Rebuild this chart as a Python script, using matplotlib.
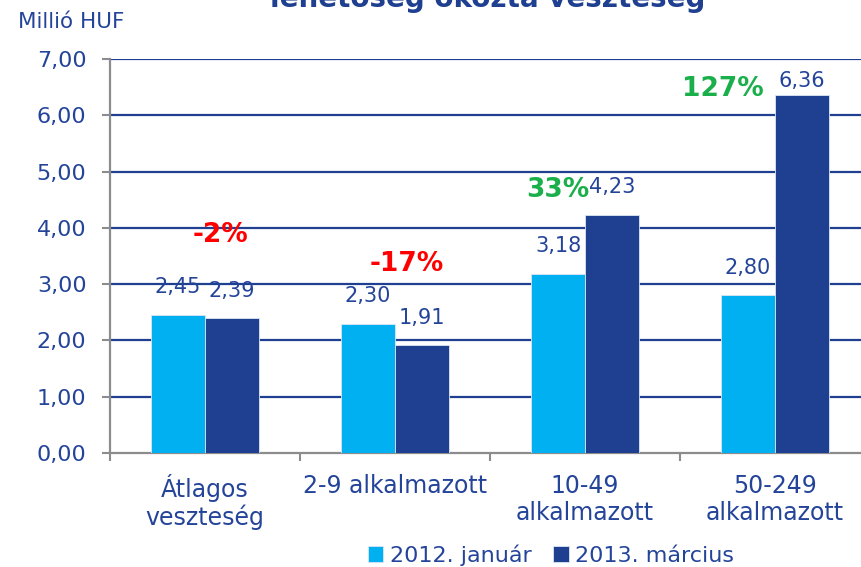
import matplotlib.pyplot as plt
import numpy as np

plt.rcParams['font.family'] = ['DejaVu Sans']

categories = ['Átlagos\nveszteség', '2-9 alkalmazott', '10-49\nalkalmazott', '50-249\nalkalmazott']
series_names = ['2012. január', '2013. március']
values_2012 = [2.45, 2.30, 3.18, 2.80]
values_2013 = [2.39, 1.91, 4.23, 6.36]
changes = ['-2%', '-17%', '33%', '127%']
y_ticks = [0, 1, 2, 3, 4, 5, 6, 7]

light = '#00b0f0'
dark = '#1f4090'
txt = '#24449a'
grey = '#8c8c8c'

fig = plt.figure(figsize=(8.62, 5.67), dpi=100)
ax = fig.add_axes([110 / 862, 114 / 567, 760 / 862, 394 / 567])

x = np.arange(len(categories))
w = 0.284
b1 = ax.bar(x - w / 2, values_2012, w, color=light, edgecolor='#dde6f5', linewidth=0.6,
            label=series_names[0], zorder=3)
b2 = ax.bar(x + w / 2, values_2013, w, color=dark, edgecolor='#dde6f5', linewidth=0.6,
            label=series_names[1], zorder=3)

ax.set_xlim(-0.5, 3.5)
ax.set_ylim(0, 7)
ax.set_yticks(y_ticks)
ax.set_yticklabels([f'{v:.2f}'.replace('.', ',') for v in y_ticks])
for v in y_ticks[1:]:
    ax.axhline(v, color=dark, lw=1.6, zorder=1)

ax.set_xticks(x)
ax.set_xticklabels(categories, color=txt, fontsize=17, linespacing=1.15)
ax.set_xticks(np.arange(-0.5, 3.6, 1), minor=True)
ax.tick_params(axis='x', which='major', length=0, pad=15)
ax.tick_params(axis='x', which='minor', length=6, width=1.5, color=grey)
ax.tick_params(axis='y', length=6, width=1.5, color=grey, labelcolor=txt, labelsize=16, pad=11)

for s in ['top', 'right']:
    ax.spines[s].set_visible(False)
for s in ['left', 'bottom']:
    ax.spines[s].set_color(grey)
    ax.spines[s].set_linewidth(1.6)

# value labels (offset in points above bar top)
off_2012 = [20, 20, 20, 20]
off_2013 = [20, 20, 20, 10]
for i in range(len(categories)):
    ax.annotate(f'{values_2012[i]:.2f}'.replace('.', ','), (x[i] - w / 2, values_2012[i]),
                xytext=(0, off_2012[i]), textcoords='offset points', ha='center', va='center',
                color=txt, fontsize=15, zorder=4)
    ax.annotate(f'{values_2013[i]:.2f}'.replace('.', ','), (x[i] + w / 2, values_2013[i]),
                xytext=(0, off_2013[i]), textcoords='offset points', ha='center', va='center',
                color=txt, fontsize=15, zorder=4)

# change labels
chg_x = [0.084, 1.063, 1.858, 2.726]
chg_y = [3.87, 3.35, 4.68, 6.47]
chg_col = ['#ff0000', '#ff0000', '#1aaf4b', '#1aaf4b']
for i in range(len(changes)):
    ax.text(chg_x[i], chg_y[i], changes[i], ha='center', va='center', color=chg_col[i],
            fontsize=19, fontweight='bold', zorder=5)

fig.text(18 / 862, 1 - 22 / 567, 'Millió HUF', color=txt, fontsize=15.5, ha='left', va='center')
fig.text(705 / 862, 1 - 7 / 567, 'lehetőség okozta veszteség', color=dark, fontsize=20,
         fontweight='bold', ha='right', va='baseline')

fig.legend(handles=[b1, b2], loc='center', bbox_to_anchor=(551 / 862, 1 - 555 / 567),
           ncol=2, frameon=False, fontsize=16, handlelength=0.68, handleheight=0.68,
           handletextpad=0.3, columnspacing=1.0, labelcolor=txt, borderpad=0)

fig.savefig('out.png', dpi=100)
